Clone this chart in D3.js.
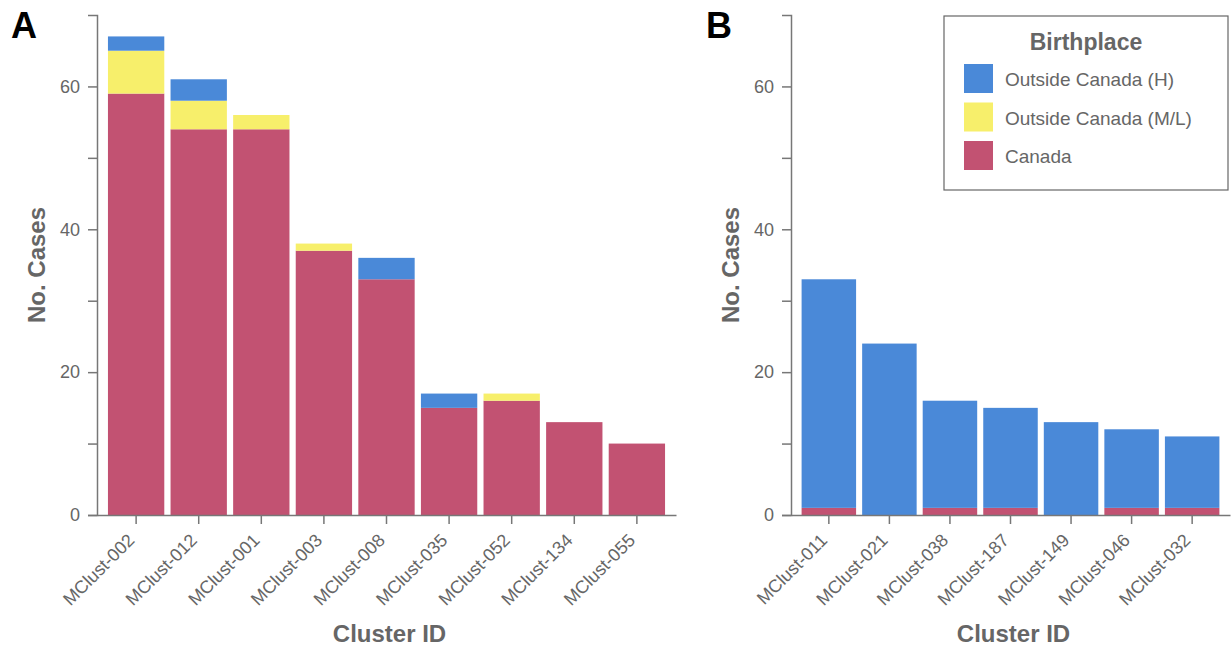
<!DOCTYPE html>
<html>
<head>
<meta charset="utf-8">
<script src="https://cdn.jsdelivr.net/npm/d3@7"></script>
<style>
  body { margin: 0; background: #fff; }
  svg { font-family: Arial, "Liberation Sans", sans-serif; }
  .axis path, .axis line { stroke: #777; stroke-width: 1.5; }
  .axis text { fill: #666; font-size: 18px; }
</style>
</head>
<body>
<svg width="1231" height="646"></svg>
<script>
// Panel A data
const clustersA = ["MClust-002", "MClust-012", "MClust-001", "MClust-003", "MClust-008", "MClust-035", "MClust-052", "MClust-134", "MClust-055"];
const canadaA = [59, 54, 54, 37, 33, 15, 16, 13, 10];
const outsideMLA = [6, 4, 2, 1, 0, 0, 1, 0, 0];
const outsideHA = [2, 3, 0, 0, 3, 2, 0, 0, 0];

// Panel B data
const clustersB = ["MClust-011", "MClust-021", "MClust-038", "MClust-187", "MClust-149", "MClust-046", "MClust-032"];
const canadaB = [1, 0, 1, 1, 0, 1, 1];
const outsideMLB = [0, 0, 0, 0, 0, 0, 0];
const outsideHB = [32, 24, 15, 14, 13, 11, 10];

const yTicks = [0, 10, 20, 30, 40, 50, 60];
const legendLabels = ["Outside Canada (H)", "Outside Canada (M/L)", "Canada"];
const keys = ["canada", "ml", "h"];
const colors = { h: "#4a89d8", ml: "#f7ef6b", canada: "#c25272" };

const svg = d3.select("svg");
const y = d3.scaleLinear().domain([0, 70]).range([515, 15]);

function panel(letter, clusters, canada, ml, h, x0, x1, letterX) {
    const rows = clusters.map((c, i) => ({ id: c, canada: canada[i], ml: ml[i], h: h[i] }));
    const x = d3.scaleBand().domain(clusters).range([x0, x1])
        .paddingInner(0.1).paddingOuter(0.175);
    const series = d3.stack().keys(keys)(rows);

    const g = svg.append("g");
    g.selectAll("g.layer").data(series).join("g")
        .attr("fill", d => colors[d.key])
        .selectAll("rect").data(d => d).join("rect")
        .attr("x", d => x(d.data.id))
        .attr("width", x.bandwidth())
        .attr("y", d => y(d[1]))
        .attr("height", d => y(d[0]) - y(d[1]));

    g.append("g").attr("class", "axis")
        .attr("transform", `translate(${x0},0)`)
        .call(d3.axisLeft(y).tickValues(yTicks).tickSize(9).tickPadding(8)
            .tickFormat(d => d % 20 === 0 ? d : ""));

    const xa = g.append("g").attr("class", "axis")
        .attr("transform", "translate(0,515)")
        .call(d3.axisBottom(x).tickSize(9).tickSizeOuter(0));
    xa.selectAll("text")
        .attr("y", 0).attr("dy", "0.35em")
        .attr("transform", "translate(-5,22) rotate(-45)")
        .style("text-anchor", "end");

    g.append("text")
        .attr("transform", `translate(${x0 - 52},265) rotate(-90)`)
        .attr("text-anchor", "middle")
        .attr("font-size", 24).attr("font-weight", "bold").attr("fill", "#666")
        .text("No. Cases");

    g.append("text")
        .attr("x", (x0 + x1) / 2 + 3).attr("y", 642)
        .attr("text-anchor", "middle")
        .attr("font-size", 24).attr("font-weight", "bold").attr("fill", "#666")
        .text("Cluster ID");

    g.append("text")
        .attr("x", letterX).attr("y", 38)
        .attr("font-size", 36).attr("font-weight", "bold").attr("fill", "#000")
        .text(letter);
}

panel("A", clustersA, canadaA, outsideMLA, outsideHA, 97, 676, 11);
panel("B", clustersB, canadaB, outsideMLB, outsideHB, 791, 1230, 706);

// Legend
const legend = svg.append("g").attr("transform", "translate(944,16)");
legend.append("rect")
    .attr("width", 284).attr("height", 174)
    .attr("fill", "#fff").attr("stroke", "#666").attr("stroke-width", 1.2);
legend.append("text")
    .attr("x", 142).attr("y", 34)
    .attr("text-anchor", "middle")
    .attr("font-size", 23).attr("font-weight", "bold").attr("fill", "#666")
    .text("Birthplace");
const legendKeys = ["h", "ml", "canada"];
const items = legend.selectAll("g.item").data(legendKeys).join("g")
    .attr("transform", (d, i) => `translate(20,${48 + i * 38.5})`);
items.append("rect").attr("width", 29).attr("height", 29).attr("fill", d => colors[d]);
items.append("text")
    .attr("x", 41).attr("y", 22)
    .attr("font-size", 19).attr("fill", "#666")
    .text((d, i) => legendLabels[i]);
</script>
</body>
</html>
